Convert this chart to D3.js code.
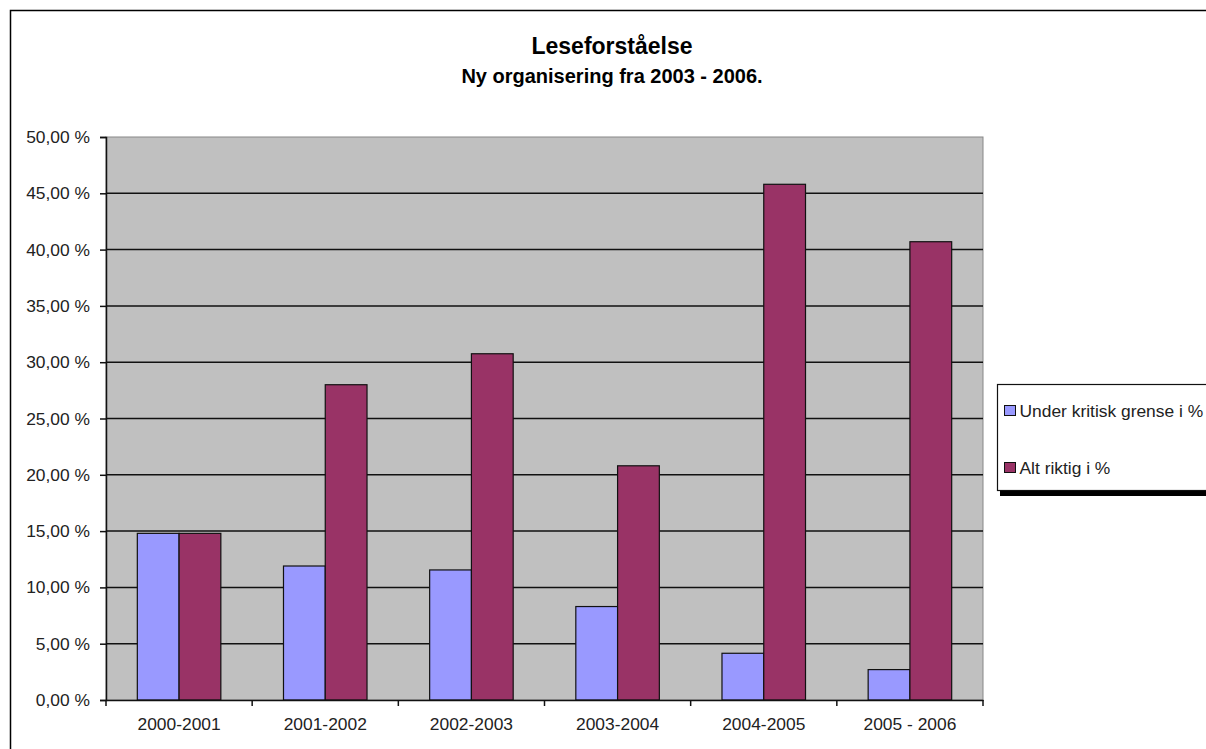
<!DOCTYPE html>
<html>
<head>
<meta charset="utf-8">
<script src="https://cdn.jsdelivr.net/npm/d3@7"></script>
<style>
  body { margin: 0; background: #fff; }
  svg { font-family: "Liberation Sans", Arial, sans-serif; }
</style>
</head>
<body>
<script>
// data
var years = ["2000-2001", "2001-2002", "2002-2003", "2003-2004", "2004-2005", "2005 - 2006"];
var series = ["Under kritisk grense i %", "Alt riktig i %"];
var underKritisk = [14.8, 11.9, 11.55, 8.3, 4.15, 2.7];
var altRiktig = [14.8, 28.0, 30.75, 20.8, 45.8, 40.7];
var yTicks = [0, 5, 10, 15, 20, 25, 30, 35, 40, 45, 50];
var colors = ["#9999ff", "#993366"];

var width = 1206, height = 749;
var plot = {left: 106, top: 137, right: 983, bottom: 700};
var labelSize = "17.4px";

var svg = d3.select("body").append("svg")
    .attr("width", width)
    .attr("height", height);

// outer chart frame (runs off the right and bottom)
svg.append("rect")
    .attr("x", 10.5).attr("y", 10.5)
    .attr("width", 1300).attr("height", 800)
    .attr("fill", "#fff")
    .attr("stroke", "#000")
    .attr("stroke-width", 1.5);

svg.append("text")
    .attr("x", 612).attr("y", 54)
    .attr("text-anchor", "middle")
    .style("font-size", "23px").style("font-weight", "bold")
    .text("Leseforståelse");
svg.append("text")
    .attr("x", 612).attr("y", 83)
    .attr("text-anchor", "middle")
    .style("font-size", "20px").style("font-weight", "bold")
    .text("Ny organisering fra 2003 - 2006.");

var x = d3.scaleBand().domain(years).range([plot.left, plot.right]);
var x1 = d3.scaleBand().domain(series).range([0, x.bandwidth()]).paddingOuter(0.75).paddingInner(0);
var y = d3.scaleLinear().domain([0, 50]).range([plot.bottom, plot.top]);

var fmt = function (v) { return d3.format(".2f")(v).replace(".", ",") + " %"; };

svg.append("rect")
    .attr("x", plot.left).attr("y", plot.top)
    .attr("width", plot.right - plot.left).attr("height", plot.bottom - plot.top)
    .attr("fill", "#c0c0c0")
    .attr("stroke", "#888")
    .attr("stroke-width", 1);

// gridlines
svg.append("g").selectAll("line")
    .data(yTicks.slice(1, -1))
    .enter().append("line")
    .attr("x1", plot.left).attr("x2", plot.right)
    .attr("y1", d => y(d)).attr("y2", d => y(d))
    .attr("stroke", "#111")
    .attr("stroke-width", 1.5);

// bars
var rows = years.map(function (yr, i) {
    return {year: yr, values: [underKritisk[i], altRiktig[i]]};
});
var groups = svg.append("g").selectAll("g")
    .data(rows)
    .enter().append("g")
    .attr("transform", d => "translate(" + x(d.year) + ",0)");

groups.selectAll("rect")
    .data(d => d.values.map((v, i) => ({key: series[i], value: v, i: i})))
    .enter().append("rect")
    .attr("x", d => x1(d.key))
    .attr("width", x1.bandwidth())
    .attr("y", d => y(d.value))
    .attr("height", d => y(0) - y(d.value))
    .attr("fill", d => colors[d.i])
    .attr("stroke", "#111")
    .attr("stroke-width", 1.2);

// axes
var yAxis = svg.append("g")
    .attr("transform", "translate(" + plot.left + ",0)")
    .call(d3.axisLeft(y).tickValues(yTicks).tickFormat(fmt).tickSize(6).tickPadding(10));
yAxis.select(".domain").attr("stroke", "#111").attr("stroke-width", 1.5);
yAxis.selectAll(".tick line").attr("stroke", "#111").attr("stroke-width", 1.5);
yAxis.selectAll("text").style("font-size", labelSize).attr("fill", "#222")
    .style("font-family", "Liberation Sans, Arial, sans-serif");

var xAxis = svg.append("g")
    .attr("transform", "translate(0," + plot.bottom + ")")
    .call(d3.axisBottom(x).tickSize(0).tickPadding(18));
xAxis.select(".domain").attr("stroke", "#111").attr("stroke-width", 1.5);
xAxis.selectAll("text").style("font-size", labelSize).attr("fill", "#222")
    .style("font-family", "Liberation Sans, Arial, sans-serif");

// tick marks between categories
svg.append("g").selectAll("line")
    .data(years.concat(["end"]))
    .enter().append("line")
    .attr("x1", (d, i) => plot.left + i * x.bandwidth())
    .attr("x2", (d, i) => plot.left + i * x.bandwidth())
    .attr("y1", plot.bottom).attr("y2", plot.bottom + 6)
    .attr("stroke", "#111").attr("stroke-width", 1.5);

// legend
var lg = svg.append("g");
lg.append("rect")
    .attr("x", 1000).attr("y", 388)
    .attr("width", 300).attr("height", 108)
    .attr("fill", "#000");
lg.append("rect")
    .attr("x", 997.5).attr("y", 384.5)
    .attr("width", 300).attr("height", 106)
    .attr("fill", "#fff")
    .attr("stroke", "#111").attr("stroke-width", 1.2);

var items = lg.selectAll("g.item")
    .data(series)
    .enter().append("g")
    .attr("transform", (d, i) => "translate(1004.5," + (405.5 + i * 57) + ")");
items.append("rect")
    .attr("width", 11).attr("height", 10)
    .attr("fill", (d, i) => colors[i])
    .attr("stroke", "#111").attr("stroke-width", 1);
items.append("text")
    .attr("x", 15).attr("y", 11)
    .style("font-size", labelSize).attr("fill", "#222")
    .text(d => d);
</script>
</body>
</html>
